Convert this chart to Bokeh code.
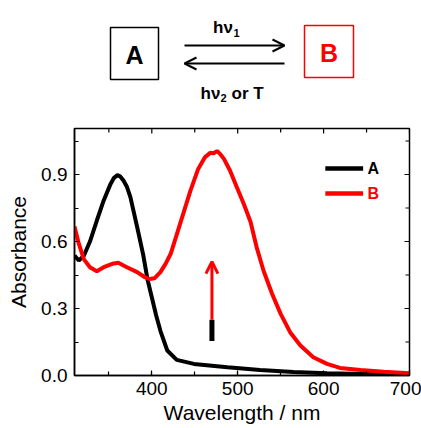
from bokeh.plotting import figure
from bokeh.layouts import column
from bokeh.models import Range1d, SingleIntervalTicker, Arrow, OpenHead
from bokeh.core.properties import value
from bokeh.embed import file_html
from bokeh.resources import INLINE

# ---- data ----
wl_a = [310, 315, 321, 328, 336, 344, 352, 356, 360, 363, 367, 371, 375, 383, 390, 395,
        400, 405, 410, 418, 429, 449, 488, 526, 565, 604, 681, 700]
abs_a = [0.537, 0.515, 0.537, 0.60, 0.694, 0.784, 0.858, 0.885, 0.897, 0.892, 0.873, 0.845,
         0.80, 0.664, 0.54, 0.43, 0.35, 0.27, 0.20, 0.112, 0.07, 0.052, 0.037, 0.025,
         0.016, 0.010, 0.005, 0.004]

wl_b = [310, 315, 321, 328, 336, 344, 354, 361, 371, 383, 392, 397, 403, 410, 416, 422,
        433, 445, 454, 462, 468, 472, 476, 480, 484, 491, 499, 507, 515, 522, 530, 540,
        550, 561, 573, 588, 604, 619, 643, 670, 700]
abs_b = [0.667, 0.59, 0.52, 0.485, 0.467, 0.485, 0.50, 0.505, 0.485, 0.463, 0.44, 0.432,
         0.435, 0.463, 0.50, 0.545, 0.68, 0.828, 0.925, 0.978, 0.997, 0.995, 1.005, 0.99,
         0.97, 0.918, 0.843, 0.769, 0.687, 0.575, 0.47, 0.366, 0.276, 0.194, 0.134, 0.082,
         0.052, 0.034, 0.025, 0.017, 0.010]

x_major = [400, 500, 600, 700]
x_minor = [350, 450, 550, 650]
y_major = [0.0, 0.3, 0.6, 0.9]
y_minor = [0.15, 0.45, 0.75, 1.05]

# change indicator (wavelength, absorbance from -> to)
ind_x = 470
ind_a = [0.154, 0.25]
ind_b = [0.25, 0.51]

legend_names = ["A", "B"]
legend_colors = ["black", "red"]
legend_y = [0.927, 0.815]
legend_x = [602, 646]

X0, X1, Y0, Y1 = 310, 700, 0, 1.106
FONT = "Liberation Sans"
W, LEFT, RIGHT = 421, 74, 12

# ---- scheme figure (page-pixel coordinates) ----
s = figure(width=W, height=116, x_range=Range1d(74, 409), y_range=Range1d(116, 0),
           output_backend="svg", toolbar_location=None,
           min_border_left=LEFT, min_border_right=RIGHT, min_border_top=0, min_border_bottom=0)
s.axis.visible = False
s.grid.visible = False
s.outline_line_color = None

s.quad(left=[110], right=[158], top=[27], bottom=[79], fill_color=None, line_color="black", line_width=1.5)
s.quad(left=[304], right=[353], top=[25], bottom=[77], fill_color=None, line_color="red", line_width=1.5)
s.text(x=[134], y=[54], text=["A"], text_color="black", text_font=value(FONT), text_font_style="bold",
       text_font_size="25px", text_align="center", text_baseline="middle")
s.text(x=[328.5], y=[52], text=["B"], text_color="red", text_font=value(FONT), text_font_style="bold",
       text_font_size="25px", text_align="center", text_baseline="middle")
s.add_layout(Arrow(x_start=184, y_start=45, x_end=284, y_end=45, line_width=2,
                   end=OpenHead(size=12, line_width=2)))
s.add_layout(Arrow(x_start=284, y_start=63, x_end=184, y_end=63, line_width=2,
                   end=OpenHead(size=12, line_width=2)))

def stext(x, y, t, size):
    s.text(x=[x], y=[y], text=[t], text_font=value(FONT), text_font_style="bold",
           text_font_size=size, text_align="left", text_baseline="alphabetic")

stext(212.5, 27, "hν", "17px")
stext(233, 32, "1", "11px")
stext(200, 93, "hν", "17px")
stext(220, 97, "2", "11px")
stext(231, 93, "or T", "17px")

# ---- spectrum figure ----
p = figure(width=W, height=312, x_range=Range1d(X0, X1), y_range=Range1d(Y0, Y1),
           output_backend="svg", toolbar_location=None,
           min_border_left=LEFT, min_border_right=RIGHT, min_border_top=12, min_border_bottom=53)
p.grid.visible = False
p.outline_line_color = "black"
p.outline_line_width = 1.5

p.line(wl_a, abs_a, line_color="black", line_width=4)
p.line(wl_b, abs_b, line_color="red", line_width=4)

p.segment(x0=[ind_x], y0=[ind_a[0]], x1=[ind_x], y1=[ind_a[1]], line_color="black", line_width=5)
p.add_layout(Arrow(x_start=ind_x, y_start=ind_b[0], x_end=ind_x, y_end=ind_b[1],
                   line_color="red", line_width=3,
                   end=OpenHead(size=12, line_color="red", line_width=3)))

for nm, col, yy in zip(legend_names, legend_colors, legend_y):
    p.line(legend_x, [yy, yy], line_color=col, line_width=4.5)
    p.text(x=[legend_x[1] + 5], y=[yy], text=[nm], text_color=col, text_font=value(FONT),
           text_font_style="bold", text_font_size="16px", text_baseline="middle")

# mirrored inward ticks on top and right edges
xpx = (X1 - X0) / 335.0
ypx = (Y1 - Y0) / 247.0
p.segment(x0=x_major, y0=[Y1] * 4, x1=x_major, y1=[Y1 - 5 * ypx] * 4, line_color="black", line_width=1.2)
p.segment(x0=x_minor, y0=[Y1] * 4, x1=x_minor, y1=[Y1 - 4 * ypx] * 4, line_color="black", line_width=1.2)
p.segment(x0=[X1] * 4, y0=y_major, x1=[X1 - 5 * xpx] * 4, y1=y_major, line_color="black", line_width=1.2)
p.segment(x0=[X1] * 4, y0=y_minor, x1=[X1 - 4 * xpx] * 4, y1=y_minor, line_color="black", line_width=1.2)

p.xaxis.ticker = SingleIntervalTicker(interval=100, num_minor_ticks=2)
p.yaxis.ticker = SingleIntervalTicker(interval=0.3, num_minor_ticks=2)
p.yaxis.major_label_overrides = {0: "0.0", 0.3: "0.3", 0.6: "0.6", 0.9: "0.9"}

for ax in [p.xaxis[0], p.yaxis[0]]:
    ax.major_tick_in = 5
    ax.major_tick_out = 0
    ax.minor_tick_in = 4
    ax.minor_tick_out = 0
    ax.axis_line_width = 1.5
    ax.major_tick_line_width = 1.2
    ax.minor_tick_line_width = 1.2
    ax.major_label_text_font = FONT
    ax.major_label_text_font_size = "19px"
    ax.major_label_text_color = "black"
    ax.axis_label_text_font = FONT
    ax.axis_label_text_font_size = "21px"
    ax.axis_label_text_font_style = "normal"
    ax.axis_label_text_color = "black"

p.xaxis.axis_label = "Wavelength / nm"
p.yaxis.axis_label = "Absorbance"
p.xaxis.major_label_standoff = 6
p.xaxis.axis_label_standoff = 3
p.yaxis.major_label_standoff = 7
p.yaxis.axis_label_standoff = 8

lay = column(s, p, spacing=0)
open("out.html", "w").write(file_html(lay, INLINE))
